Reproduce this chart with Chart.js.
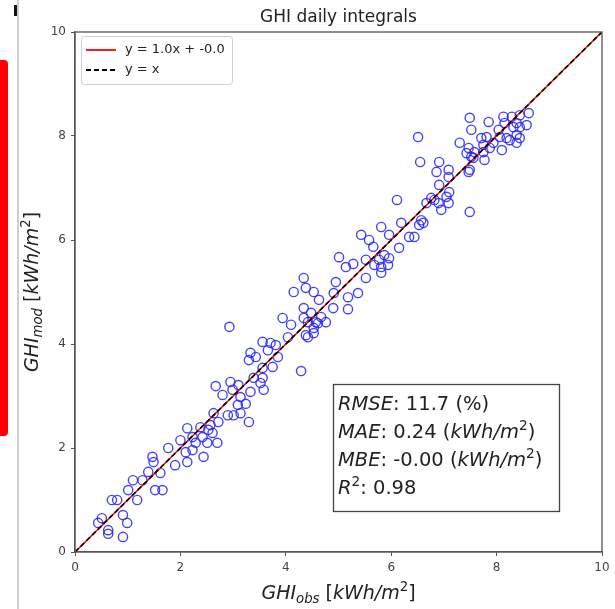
<!DOCTYPE html>
<html>
<head>
<meta charset="utf-8">
<script src="https://cdn.jsdelivr.net/npm/chart.js@4.4.0/dist/chart.umd.min.js"></script>
<style>
html, body { margin: 0; padding: 0; background: #fff; }
canvas { display: block; }
</style>
</head>
<body>
<canvas id="ScatterChart" width="615" height="609"></canvas>
<script>
var obsValues = [0.44,0.51,0.63,0.63,0.91,0.91,0.99,0.70,0.80,1.01,1.18,1.52,1.66,1.10,1.28,1.39,1.62,1.47,1.49,1.77,
  1.90,2.00,2.13,2.10,2.23,2.29,2.44,2.51,2.70,2.13,2.38,2.57,2.72,2.90,3.01,3.14,3.09,3.24,3.30,2.61,2.42,2.93,2.95,3.10,2.67,2.80,2.99,3.14,2.63,2.53,2.23,
  5.01,5.14,4.34,4.38,4.53,4.15,4.95,4.91,5.18,5.18,4.63,4.34,4.90,4.67,4.34,4.57,4.76,4.53,4.42,3.94,4.10,4.04,3.56,3.71,3.81,3.66,3.85,3.33,3.43,3.30,3.75,3.56,4.29,3.39,3.56,3.52,3.58,3.33,5.28,5.37,4.48,4.61,4.42,4.53,4.38,
  6.55,6.91,6.86,7.09,7.09,6.91,7.10,7.05,6.82,6.67,6.90,7.09,6.95,6.11,6.57,6.61,6.53,6.19,5.81,5.43,5.58,5.96,6.34,6.44,5.66,6.15,5.87,5.96,5.77,5.52,5.68,5.81,5.94,5.81,5.52,6.51,6.76,
  7.43,7.52,7.75,7.77,7.49,7.47,7.49,7.49,7.52,7.85,8.13,8.15,8.29,8.38,8.44,8.61,8.57,8.44,8.32,7.71,7.81,8.04,8.06,8.19,8.25,8.38,8.44,8.38,7.30,7.47,7.58,7.75,7.87,7.94,8.10,7.56];
var modValues = [0.56,0.65,0.42,0.35,0.29,0.71,0.56,1.00,1.00,1.19,1.00,1.19,1.19,1.38,1.38,1.54,1.52,1.83,1.73,2.00,
  1.67,2.15,1.73,1.92,1.96,2.10,1.83,2.10,2.10,2.38,2.40,2.44,2.50,2.63,2.63,2.67,2.83,2.85,2.50,2.29,2.21,4.33,3.27,3.21,3.19,3.02,3.12,2.98,2.67,2.35,2.21,
  5.67,5.48,5.27,5.08,5.00,5.00,5.19,4.98,4.90,4.67,4.85,4.69,4.69,4.52,4.50,4.42,4.42,4.31,4.13,4.50,4.37,4.13,4.04,4.02,3.98,3.88,3.75,3.83,3.75,3.69,3.56,3.54,3.48,3.35,3.35,3.25,3.12,3.08,5.54,4.98,4.60,4.40,4.42,4.21,4.17,
  7.50,7.50,7.31,7.35,7.21,7.06,6.92,6.83,6.77,6.71,6.71,6.71,6.58,6.77,6.38,6.33,6.29,6.33,6.25,6.10,6.00,6.10,6.06,6.06,5.87,5.85,5.71,5.65,5.62,5.62,5.52,5.48,5.52,5.37,5.27,7.98,6.81,
  7.67,7.60,7.69,7.54,7.35,7.31,6.54,8.35,8.12,8.27,8.37,8.25,8.37,8.25,8.40,8.44,8.21,8.17,8.17,7.96,7.98,8.12,7.98,7.96,7.92,8.02,7.96,7.87,7.87,7.77,7.69,7.83,7.77,7.87,7.73,7.58];

var axisMin = 0, axisMax = 10, tickStep = 2;
var fitSlope = 1.0, fitIntercept = -0.0;
var statRmse = '11.7', statMae = '0.24', statMbe = '-0.00', statR2 = '0.98';

var FONT = '"DejaVu Sans", sans-serif';

var points = obsValues.map(function (x, i) { return { x: x, y: modValues[i] }; });

// draws a list of text pieces (italic / sub / sup) starting at x, baseline y
function partsWidth(ctx, parts, size) {
  var w = 0;
  parts.forEach(function (p) {
    var fs = (p.sub || p.sup) ? size * 0.7 : size;
    ctx.font = (p.it ? 'italic ' : '') + fs + 'px ' + FONT;
    w += ctx.measureText(p.t).width;
  });
  return w;
}
function drawParts(ctx, parts, x, y, size) {
  parts.forEach(function (p) {
    var fs = (p.sub || p.sup) ? size * 0.7 : size;
    ctx.font = (p.it ? 'italic ' : '') + fs + 'px ' + FONT;
    var dy = p.sub ? size * 0.22 : (p.sup ? -size * 0.42 : 0);
    ctx.fillText(p.t, x, y + dy);
    x += ctx.measureText(p.t).width;
  });
}

var unitParts = [{t: ' ['}, {t: 'kWh/m', it: true}, {t: '2', sup: true}, {t: ']'}];
var xTitle = [{t: 'GHI', it: true}, {t: 'obs', it: true, sub: true}].concat(unitParts);
var yTitle = [{t: 'GHI', it: true}, {t: 'mod', it: true, sub: true}].concat(unitParts);

var decor = {
  id: 'decor',
  beforeDraw: function (chart) {
    var ctx = chart.ctx;
    ctx.save();
    ctx.fillStyle = '#fff';
    ctx.fillRect(0, 0, chart.width, chart.height);
    // page furniture around the figure
    ctx.fillStyle = '#ff0000';
    ctx.beginPath();
    ctx.roundRect(-6, 60, 14, 376, 4);
    ctx.fill();
    ctx.fillStyle = '#cfcfcf';
    ctx.fillRect(17, 0, 2, chart.height);
    ctx.fillStyle = '#111';
    ctx.fillRect(14, 5, 3, 11);
    ctx.restore();
  },
  afterDraw: function (chart) {
    var ctx = chart.ctx, a = chart.chartArea;
    ctx.save();
    // plot frame
    ctx.strokeStyle = '#555';
    ctx.lineWidth = 1.3;
    ctx.strokeRect(a.left, a.top, a.right - a.left, a.bottom - a.top);

    ctx.fillStyle = '#222';
    ctx.textBaseline = 'alphabetic';
    ctx.textAlign = 'left';
    // title
    ctx.font = '17px ' + FONT;
    var tw = ctx.measureText('GHI daily integrals').width;
    ctx.fillText('GHI daily integrals', (a.left + a.right) / 2 - tw / 2, 22);

    // axis titles
    var xs = 19;
    var xw = partsWidth(ctx, xTitle, xs);
    drawParts(ctx, xTitle, (a.left + a.right) / 2 - xw / 2, 599, xs);
    ctx.save();
    ctx.translate(38, (a.top + a.bottom) / 2);
    ctx.rotate(-Math.PI / 2);
    var yw = partsWidth(ctx, yTitle, xs);
    drawParts(ctx, yTitle, -yw / 2, 0, xs);
    ctx.restore();

    // legend
    ctx.fillStyle = 'rgba(255,255,255,0.85)';
    ctx.strokeStyle = '#d0d0d0';
    ctx.lineWidth = 1;
    ctx.beginPath();
    ctx.roundRect(81.5, 36.5, 151, 48, 3);
    ctx.fill();
    ctx.stroke();
    var legendSets = chart.data.datasets.filter(function (d) { return d.type === 'line'; })
      .sort(function (p, q) { return q.order - p.order; });
    legendSets.forEach(function (d, i) {
      var ly = 50 + i * 20;
      ctx.strokeStyle = d.borderColor;
      ctx.lineWidth = 1.8;
      ctx.setLineDash(d.borderDash || []);
      ctx.beginPath();
      ctx.moveTo(86, ly);
      ctx.lineTo(116, ly);
      ctx.stroke();
      ctx.setLineDash([]);
      ctx.fillStyle = '#222';
      ctx.font = '13px ' + FONT;
      ctx.textBaseline = 'middle';
      ctx.fillText(d.label, 125, ly);
    });
    ctx.textBaseline = 'alphabetic';

    // statistics box
    ctx.fillStyle = '#fff';
    ctx.strokeStyle = '#444';
    ctx.lineWidth = 1.3;
    ctx.fillRect(333.5, 384.5, 226, 127);
    ctx.strokeRect(333.5, 384.5, 226, 127);
    ctx.fillStyle = '#222';
    var ss = 19.5;
    var unit = [{t: ' ('}, {t: 'kWh/m', it: true}, {t: '2', sup: true}, {t: ')'}];
    var lines = [
      [{t: 'RMSE', it: true}, {t: ': ' + statRmse + ' (%)'}],
      [{t: 'MAE', it: true}, {t: ': ' + statMae}].concat(unit),
      [{t: 'MBE', it: true}, {t: ': ' + statMbe}].concat(unit),
      [{t: 'R', it: true}, {t: '2', sup: true}, {t: ': ' + statR2}]
    ];
    lines.forEach(function (ln, i) {
      drawParts(ctx, ln, 338, 410 + i * 28, ss);
    });
    ctx.restore();
  }
};

var ctx = document.getElementById('ScatterChart').getContext('2d');

var myChart = new Chart(ctx, {
  type: 'scatter',
  data: {
    datasets: [{
      type: 'line',
      label: 'y = x',
      data: [{x: axisMin, y: axisMin}, {x: axisMax, y: axisMax}],
      borderColor: '#000000',
      borderDash: [5, 3],
      borderWidth: 1.6,
      pointRadius: 0,
      fill: false,
      order: 0
    }, {
      type: 'line',
      label: 'y = ' + fitSlope.toFixed(1) + 'x + ' + (fitIntercept === 0 ? '-0.0' : fitIntercept.toFixed(1)),
      data: [{x: axisMin, y: fitSlope * axisMin + fitIntercept}, {x: axisMax, y: fitSlope * axisMax + fitIntercept}],
      borderColor: '#ff0000',
      borderWidth: 1.6,
      pointRadius: 0,
      fill: false,
      order: 1
    }, {
      label: 'GHI',
      data: points,
      pointStyle: 'circle',
      pointRadius: 4.6,
      borderWidth: 1.4,
      borderColor: 'rgba(35,35,245,0.85)',
      backgroundColor: 'rgba(0,0,0,0)',
      order: 2
    }]
  },
  options: {
    responsive: false,
    animation: false,
    layout: { padding: { top: 32, right: 13, left: 0, bottom: 0 } },
    plugins: {
      legend: { display: false },
      tooltip: { enabled: false },
      title: { display: false }
    },
    scales: {
      x: {
        type: 'linear',
        min: axisMin,
        max: axisMax,
        ticks: { stepSize: tickStep, color: '#444', padding: 5, maxRotation: 0, font: { family: FONT, size: 12 } },
        grid: { drawOnChartArea: false, tickLength: 4, color: '#555' },
        border: { color: '#555', width: 1.3 },
        afterFit: function (s) { s.height = 57; }
      },
      y: {
        type: 'linear',
        min: axisMin,
        max: axisMax,
        ticks: { stepSize: tickStep, color: '#444', padding: 5, font: { family: FONT, size: 12 } },
        grid: { drawOnChartArea: false, tickLength: 4, color: '#555' },
        border: { color: '#555', width: 1.3 },
        afterFit: function (s) { s.width = 75; }
      }
    }
  },
  plugins: [decor]
});
</script>
</body>
</html>
